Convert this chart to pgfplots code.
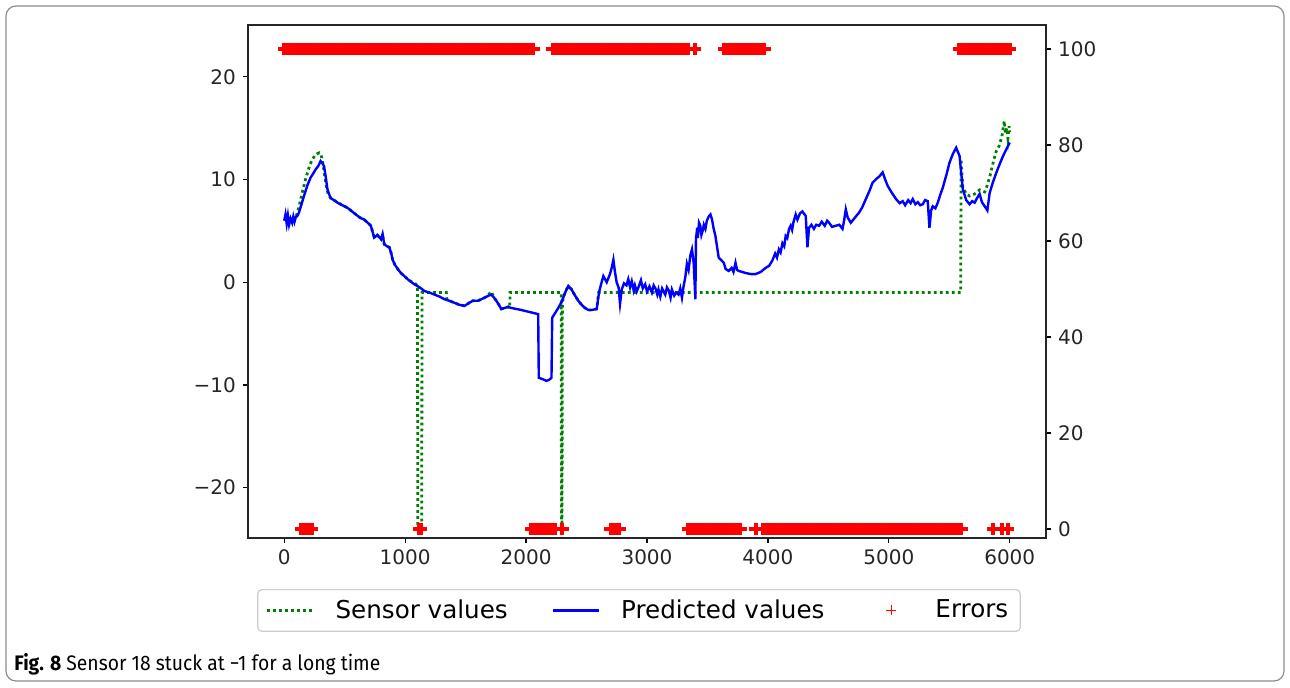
\documentclass[border=0pt]{standalone}
\usepackage{pgfplots}
\pgfplotsset{compat=1.18}
\usepackage{fontspec}
\setmainfont{DejaVu Sans}
\newfontfamily\capfont{Fira Sans}[FakeStretch=0.92]
\definecolor{mgreen}{HTML}{008000}
\begin{document}
\begin{tikzpicture}
\useasboundingbox (0,0) rectangle (645pt,343.5pt);
\draw[rounded corners=5pt, black!45, line width=0.6pt] (3pt,3pt) rectangle (642pt,340.5pt);
\node[anchor=base west, inner sep=0pt, font=\capfont\fontsize{10.5}{12}\selectfont] at (7pt,8.5pt) {\textbf{Fig. 8} Sensor 18 stuck at −1 for a long time};
\begin{axis}[
  at={(124pt,74.5pt)}, anchor=south west,
  scale only axis, width=399pt, height=256.5pt,
  xmin=-300, xmax=6300, ymin=-24.9, ymax=25.05,
  xtick={0,1000,2000,3000,4000,5000,6000},
  xticklabels={0,1000,2000,3000,4000,5000,6000},
  ytick={-20,-10,0,10,20},
  yticklabels={−20,−10,0,10,20},
  xtick pos=bottom, ytick pos=left,
  tick align=outside, major tick length=2.5pt,
  tick style={black, line width=0.6pt},
  axis line style={black!85, line width=0.8pt},
  ticklabel style={font=\fontsize{10}{12}\selectfont, text=black!85},
  clip=true,
]
\addplot[mgreen, line width=1.4pt, dash pattern=on 1.4pt off 1.6pt] coordinates {
(0,6.0) (25,6.4) (53,6.0) (94,6.3) (115,7.0) (130,7.8) (150,8.8) (175,10.0) (200,11.0) (225,11.8) (250,12.3) (270,12.5) (290,12.6) (305,12.4) (320,11.5) (335,10.3) (350,9.2) (365,8.5) (384,8.2) (410,8.0) (440,7.8) (480,7.5) (523,7.25) (560,6.9) (592,6.6) (625,6.3) (661,6.1) (690,5.8) (716,5.5) (744,4.4) (770,4.6) (800,4.2) (813,4.6) (827,3.7) (850,3.5) (869,3.4) (885,2.8) (896,2.2) (915,1.7) (938,1.3) (965,0.9) (993,0.6) (1030,0.2) (1076,-0.1) (1102,-0.3) (1104,-24) (1137,-24) (1139,-1) (1340,-1) (1345,-1.65) (1365,-1.8) (1408,-2.0) (1450,-2.2) (1491,-2.3) (1530,-2.0) (1560,-1.8) (1602,-1.8) (1657,-1.5) (1690,-1.2) (1712,-0.9) (1735,-1.5) (1754,-1.8) (1775,-2.2) (1795,-2.6) (1823,-2.5) (1850,-2.4) (1865,-2.5) (1867,-1) (2290,-1) (2293,-24) (2297,-24) (2300,-2.2) (2307,-1.5) (2330,-0.8) (2349,-0.4) (2376,-0.7) (2400,-1.2) (2432,-1.8) (2460,-2.2) (2487,-2.5) (2515,-2.7) (2542,-2.7) (2584,-2.6) (2600,-1) (5595,-1) (5597,12.0) (5612,9.3) (5640,8.6) (5668,8.4) (5710,8.6) (5751,9.0) (5793,8.8) (5810,9.3) (5840,10.5) (5870,12.0) (5890,12.8) (5910,13.2) (5935,14.2) (5955,15.7) (5965,14.5) (5975,15.0) (5985,14.0) (5995,15.2) (6000,14.6)
};
\addplot[blue, line width=1.2pt] coordinates {
(0,6.0) (10,6.6) (20,5.7) (30,6.5) (40,5.6) (53,6.2) (65,5.8) (75,6.4) (85,5.9) (94,6.3) (110,6.5) (122,6.8) (140,7.5) (163,8.4) (190,9.4) (218,10.2) (240,10.6) (260,11.0) (280,11.3) (301,11.8) (315,11.6) (329,11.3) (340,10.5) (357,9.05) (370,8.6) (384,8.2) (410,8.0) (440,7.75) (480,7.5) (523,7.25) (560,6.9) (592,6.6) (625,6.3) (661,6.1) (690,5.8) (716,5.5) (744,4.35) (770,4.6) (800,4.2) (813,4.7) (827,3.7) (850,3.5) (869,3.4) (885,2.8) (896,2.2) (915,1.7) (938,1.3) (965,0.9) (993,0.6) (1030,0.2) (1076,-0.2) (1120,-0.5) (1159,-0.85) (1200,-1.0) (1242,-1.2) (1285,-1.4) (1325,-1.65) (1365,-1.8) (1408,-2.0) (1450,-2.2) (1491,-2.3) (1530,-2.0) (1560,-1.8) (1602,-1.8) (1657,-1.5) (1690,-1.3) (1712,-1.2) (1735,-1.5) (1754,-1.8) (1775,-2.2) (1795,-2.6) (1823,-2.5) (1850,-2.4) (1878,-2.5) (1920,-2.6) (1961,-2.7) (2030,-2.9) (2100,-3.1) (2105,-9.3) (2141,-9.45) (2168,-9.6) (2190,-9.5) (2210,-9.3) (2216,-3.45) (2240,-3.0) (2266,-2.5) (2290,-2.0) (2307,-1.5) (2330,-0.8) (2349,-0.35) (2376,-0.7) (2400,-1.2) (2432,-1.8) (2460,-2.2) (2487,-2.5) (2515,-2.7) (2542,-2.7) (2584,-2.6) (2603,-1.0) (2620,-0.2) (2639,0.6) (2667,0.0) (2694,0.8) (2710,1.5) (2722,2.2) (2735,1.0) (2749,0.0) (2765,-0.5) (2777,-2.1) (2791,-0.7) (2810,-0.1) (2830,-0.3) (2845,0.3) (2860,-0.5) (2874,0.1) (2890,-0.8) (2900,-0.3) (2915,-0.9) (2929,-0.5) (2950,0.2) (2965,-0.6) (2985,-0.2) (3000,-0.9) (3020,-0.4) (3040,-1.0) (3055,-0.3) (3070,-0.6) (3085,-1.2) (3095,-0.7) (3110,-1.4) (3125,-0.6) (3151,-1.2) (3165,-0.5) (3180,-0.8) (3195,-1.5) (3206,-0.7) (3225,-1.3) (3240,-1.0) (3261,-1.2) (3275,-0.6) (3289,-1.5) (3303,-0.35) (3317,0.5) (3330,1.8) (3344,1.2) (3358,2.6) (3372,3.2) (3386,1.9) (3400,-1.65) (3405,4.2) (3415,5.3) (3420,4.3) (3430,5.8) (3441,5.5) (3450,4.6) (3460,5.0) (3470,5.6) (3483,5.2) (3495,6.0) (3510,6.4) (3525,6.6) (3538,6.1) (3550,5.3) (3566,4.5) (3593,2.4) (3610,2.2) (3635,1.9) (3650,1.3) (3676,1.1) (3700,1.4) (3715,1.0) (3732,1.9) (3745,1.2) (3759,1.1) (3790,1.0) (3815,0.9) (3860,0.8) (3898,0.8) (3940,1.0) (3981,1.4) (4010,1.6) (4036,2.1) (4060,2.8) (4075,2.4) (4091,3.2) (4105,2.9) (4120,3.8) (4135,3.5) (4147,4.5) (4160,4.3) (4175,5.2) (4188,5.5) (4200,5.1) (4210,5.8) (4230,6.6) (4244,6.1) (4265,6.7) (4285,6.9) (4313,6.45) (4327,3.4) (4340,5.3) (4360,5.6) (4380,5.2) (4400,5.6) (4423,5.5) (4445,5.9) (4470,5.5) (4490,6.0) (4506,5.8) (4530,5.4) (4561,5.5) (4590,5.6) (4617,5.2) (4630,6.0) (4644,7.1) (4660,6.3) (4686,5.8) (4720,6.3) (4755,6.8) (4780,7.3) (4810,8.1) (4840,8.9) (4866,9.7) (4900,10.1) (4921,10.3) (4949,10.7) (4970,10.0) (4990,9.4) (5020,8.8) (5060,8.1) (5090,7.7) (5115,7.9) (5135,7.5) (5160,8.0) (5180,7.7) (5198,8.1) (5220,7.6) (5240,7.8) (5260,7.5) (5281,7.6) (5300,8.0) (5322,7.9) (5336,5.3) (5350,7.0) (5363,7.4) (5385,7.2) (5405,7.75) (5425,8.5) (5446,9.2) (5475,10.4) (5502,11.65) (5530,12.5) (5557,13.1) (5585,12.3) (5600,10.5) (5612,9.05) (5640,8.0) (5668,7.6) (5690,7.9) (5710,7.75) (5730,8.2) (5751,8.6) (5770,7.8) (5793,7.4) (5815,7.0) (5834,8.7) (5860,9.7) (5890,10.7) (5920,11.6) (5945,12.3) (5970,12.9) (6000,13.6)
};
\end{axis}
\begin{axis}[
  at={(124pt,74.5pt)}, anchor=south west,
  scale only axis, width=399pt, height=256.5pt,
  xmin=-300, xmax=6300, ymin=-1.875, ymax=105,
  axis x line=none, axis y line*=right,
  ytick={0,20,40,60,80,100},
  yticklabels={0,20,40,60,80,100},
  tick align=outside, major tick length=2.5pt,
  tick style={black, line width=0.6pt},
  axis line style={black!85, line width=0.8pt},
  ticklabel style={font=\fontsize{10}{12}\selectfont, text=black!85},
  legend image code/.code={\path[draw=none,fill=none] (0pt,-3pt) (23pt,3pt);\draw[mark repeat=2,mark phase=2,#1] plot coordinates {(0pt,0pt) (11.5pt,0pt) (23pt,0pt)};},
  legend columns=3,
  legend style={at={(0.49,-0.1413)}, anchor=center, draw=black!20, rounded corners=2pt, line width=0.6pt,
    font=\fontsize{12.3}{14}\selectfont, inner xsep=4pt, inner ysep=3pt,
    /tikz/every odd column/.append style={column sep=8.5pt},
    /tikz/every even column/.append style={column sep=20pt}},
]
\addlegendimage{mgreen, line width=1.4pt, dash pattern=on 1.4pt off 1.6pt}
\addlegendentry{Sensor values}
\addlegendimage{blue, line width=1.2pt}
\addlegendentry{Predicted values}
\addlegendimage{only marks, mark=+, red, mark size=2.5pt, line width=0.6pt}
\addlegendentry{Errors}
\addplot[forget plot, only marks, mark=+, red, line width=2pt, mark size=3.2pt, mark options={line width=2pt}] coordinates {
(0,100) (20,100) (40,100) (60,100) (80,100) (100,100) (120,100) (140,100) (160,100) (180,100) (200,100) (220,100) (240,100) (260,100) (280,100) (300,100) (320,100) (340,100) (360,100) (380,100) (400,100) (420,100) (440,100) (460,100) (480,100) (500,100) (520,100) (540,100) (560,100) (580,100) (600,100) (620,100) (640,100) (660,100) (680,100) (700,100) (720,100) (740,100) (760,100) (780,100) (800,100) (820,100) (840,100) (860,100) (880,100) (900,100) (920,100) (940,100) (960,100) (980,100) (1000,100) (1020,100) (1040,100) (1060,100) (1080,100) (1100,100) (1110,100)
(1130,100) (1150,100) (1170,100) (1190,100) (1210,100) (1230,100) (1250,100) (1270,100) (1290,100) (1310,100) (1330,100) (1350,100) (1370,100) (1390,100) (1410,100) (1430,100) (1450,100) (1470,100) (1490,100) (1510,100) (1530,100) (1550,100) (1570,100) (1590,100) (1610,100) (1630,100) (1650,100) (1670,100) (1690,100) (1710,100) (1730,100) (1750,100) (1770,100) (1790,100) (1810,100) (1830,100) (1850,100) (1870,100) (1890,100) (1910,100) (1930,100) (1950,100) (1970,100) (1990,100) (2010,100) (2030,100) (2050,100) (2060,100)
(2220,100) (2240,100) (2260,100) (2280,100) (2300,100) (2320,100) (2340,100) (2360,100) (2380,100) (2400,100) (2420,100) (2440,100) (2460,100) (2480,100) (2500,100) (2520,100) (2540,100) (2560,100) (2580,100) (2600,100) (2620,100) (2640,100) (2660,100) (2680,100) (2700,100) (2720,100) (2740,100) (2760,100) (2780,100) (2800,100) (2820,100) (2840,100) (2860,100) (2880,100) (2900,100) (2920,100) (2940,100) (2960,100) (2980,100) (3000,100) (3020,100) (3040,100) (3060,100) (3080,100) (3100,100) (3120,100) (3140,100) (3160,100) (3180,100) (3200,100) (3220,100) (3240,100) (3260,100) (3280,100) (3300,100) (3320,100) (3340,100)
(3395,100)
(3640,100) (3660,100) (3680,100) (3700,100) (3720,100) (3740,100) (3760,100) (3780,100) (3800,100) (3820,100) (3840,100) (3860,100) (3880,100) (3900,100) (3920,100) (3940,100) (3960,100) (3970,100)
(5580,100) (5600,100) (5620,100) (5640,100) (5660,100) (5680,100) (5700,100) (5720,100) (5740,100) (5760,100) (5780,100) (5800,100) (5820,100) (5840,100) (5860,100) (5880,100) (5900,100) (5920,100) (5940,100) (5960,100) (5980,100) (6000,100)
(140,0) (160,0) (180,0) (200,0) (220,0) (230,0)
(1115,0) (1130,0)
(2040,0) (2060,0) (2080,0) (2100,0) (2120,0) (2140,0) (2160,0) (2180,0) (2200,0) (2220,0) (2240,0)
(2300,0)
(2700,0) (2720,0) (2740,0) (2760,0) (2770,0)
(3340,0) (3360,0) (3380,0) (3400,0) (3420,0) (3440,0) (3460,0) (3480,0) (3500,0) (3520,0) (3540,0) (3560,0) (3580,0) (3600,0) (3620,0) (3640,0) (3660,0) (3680,0) (3700,0) (3720,0) (3740,0) (3760,0) (3770,0)
(3900,0)
(3960,0) (3980,0) (4000,0) (4020,0) (4040,0) (4060,0) (4080,0) (4100,0) (4120,0) (4140,0) (4160,0) (4180,0) (4200,0) (4220,0) (4240,0) (4260,0) (4280,0) (4300,0) (4320,0) (4340,0) (4360,0) (4380,0) (4400,0) (4420,0) (4440,0) (4460,0) (4480,0) (4500,0) (4520,0) (4540,0) (4560,0) (4580,0) (4600,0) (4620,0) (4640,0) (4660,0) (4680,0) (4700,0) (4720,0) (4740,0) (4760,0) (4780,0) (4800,0) (4820,0) (4840,0) (4860,0) (4880,0) (4900,0) (4920,0) (4940,0) (4960,0) (4980,0) (5000,0) (5020,0) (5040,0) (5060,0) (5080,0) (5100,0) (5120,0) (5140,0) (5160,0) (5180,0) (5200,0) (5220,0) (5240,0) (5260,0) (5280,0) (5300,0) (5320,0) (5340,0) (5360,0) (5380,0) (5400,0) (5420,0) (5440,0) (5460,0) (5480,0) (5500,0) (5520,0) (5540,0) (5560,0) (5580,0) (5600,0)
(5865,0) (5940,0) (5985,0)
};
\end{axis}
\end{tikzpicture}
\end{document}
